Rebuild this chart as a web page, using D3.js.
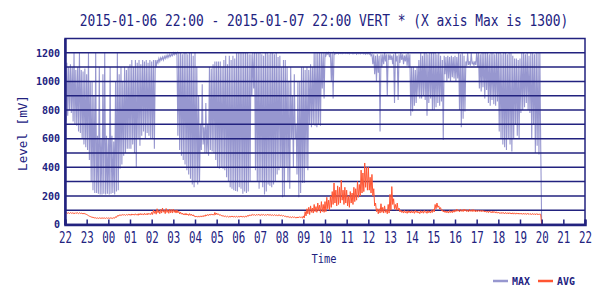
<!DOCTYPE html>
<html>
<head>
<meta charset="utf-8">
<script src="https://cdn.jsdelivr.net/npm/d3@7"></script>
<style>
  body { margin: 0; background: #fff; }
  text { font-family: "DejaVu Sans Mono", monospace; fill: #22227f; }
</style>
</head>
<body>
<div id="chart"></div>
<script>
// MAX level [mV]: highest and lowest reading in each 5 minute bin, one row per hour from 22:00
const maxHigh = [
  1100, 1130, 1100, 1120, 1100, 1200, 1080, 1100, 1200, 1080, 1070, 1090, // 22
  1050, 1200, 1000, 1000, 900, 1200, 620, 1100, 600, 1050, 1200, 620,     // 23
  600, 1100, 620, 580, 1000, 1200, 1050, 1100, 1000, 1100, 1080, 1100,    // 00
  1120, 1150, 1100, 1150, 1130, 1150, 1120, 1150, 1140, 1150, 1130, 1150, // 01
  1140, 1150, 1150, 1150, 1160, 1165, 1170, 1175, 1180, 1185, 1190, 1190, // 02
  1200, 1200, 1200, 1200, 1200, 1190, 1200, 1200, 1190, 1200, 1200, 1180, // 03
  1200, 1100, 900, 700, 980, 680, 850, 700, 1100, 1090, 1120, 1140,       // 04
  1140, 1140, 1140, 1100, 1150, 1180, 1120, 1180, 1150, 1180, 1160, 1200, // 05
  1200, 1200, 1200, 1200, 1200, 1200, 1190, 1190, 1200, 1200, 1200, 1200, // 06
  1200, 1190, 1180, 1200, 1200, 1190, 1200, 1200, 1190, 1200, 1170, 1180, // 07
  1100, 1150, 1150, 1100, 1000, 1100, 900, 1050, 700, 1000, 1000, 1100,   // 08
  1100, 1080, 1100, 1080, 1120, 1100, 1200, 1200, 1200, 1200, 1200, 1200, // 09
  1200, 1200, 1200, 1200, 1200, 1200, 1200, 1200, 1200, 1200, 1200, 1200, // 10
  1200, 1200, 1200, 1200, 1200, 1200, 1200, 1200, 1200, 1200, 1200, 1200, // 11
  1200, 1200, 1190, 1190, 1180, 1190, 1180, 1190, 1190, 1200, 1190, 1190, // 12
  1190, 1180, 1190, 1200, 1180, 1190, 1200, 1190, 1180, 1190, 1200, 1190, // 13
  1100, 1100, 1080, 1100, 1150, 1200, 1180, 1200, 1200, 1190, 1200, 1200, // 14
  1200, 1200, 1190, 1200, 1180, 1150, 1180, 1170, 1180, 1170, 1180, 1170, // 15
  1180, 1170, 1200, 1190, 1200, 1180, 1140, 1200, 1140, 1200, 1135, 1140, // 16
  1200, 1200, 1190, 1200, 1200, 1200, 1200, 1190, 1200, 1200, 1190, 1200, // 17
  1200, 1200, 1190, 1200, 1200, 1190, 1200, 1200, 1180, 1160, 1160, 1150, // 18
  1160, 1200, 1200, 1190, 1200, 1180, 1200, 1200, 1190, 1200, 1200, 1200, // 19
  0, 0, 0, 0, 0, 0, 0, 0, 0, 0, 0, 0,                                     // 20
  0, 0, 0, 0, 0, 0, 0, 0, 0, 0, 0, 0,                                     // 21
  0                                                                       // 22
];
const maxLow = [
  720, 760, 800, 780, 720, 700, 690, 650, 640, 600, 560, 540,             // 22
  520, 450, 300, 240, 220, 220, 215, 210, 210, 215, 210, 215,             // 23
  210, 215, 220, 210, 230, 240, 390, 420, 480, 500, 530, 530,             // 00
  530, 560, 500, 400, 600, 550, 620, 650, 600, 640, 620, 600,             // 01
  600, 530, 1100, 1130, 1140, 1150, 1150, 1160, 1165, 1170, 1175, 1180,   // 02
  1185, 1190, 620, 520, 480, 450, 420, 380, 350, 320, 280, 260,           // 03
  300, 280, 300, 520, 560, 500, 500, 480, 520, 510, 500, 450,             // 04
  400, 390, 400, 390, 380, 330, 300, 260, 250, 240, 235, 230,             // 05
  260, 250, 215, 230, 220, 230, 300, 900, 950, 380, 300, 250,             // 06
  300, 260, 210, 230, 280, 270, 260, 280, 300, 350, 380, 400,             // 07
  190, 200, 400, 300, 250, 600, 400, 600, 350, 190, 220, 290,             // 08
  290, 400, 380, 700, 680, 700, 690, 680, 700, 690, 950, 880,             // 09
  1180, 1190, 1170, 1000, 880, 1190, 1195, 1192, 1195, 1194, 1196, 1195,  // 10
  1195, 1192, 1196, 1193, 1195, 1190, 1194, 1192, 1195, 1193, 1190, 1192, // 11
  1190, 1180, 1120, 1050, 1000, 1060, 650, 1100, 1120, 1140, 900, 1150,   // 12
  1150, 1120, 850, 1140, 870, 1130, 1150, 1120, 1140, 1110, 1100, 760,    // 13
  790, 830, 850, 900, 880, 880, 900, 870, 760, 850, 880, 800,             // 14
  800, 820, 850, 830, 860, 590, 1050, 1000, 1020, 1000, 1030, 1020,       // 15
  1000, 1020, 800, 680, 740, 790, 1110, 1115, 1110, 1120, 1110, 1115,     // 16
  1100, 950, 930, 960, 880, 940, 850, 830, 870, 840, 830, 860,            // 17
  650, 600, 560, 540, 520, 600, 560, 510, 600, 700, 620, 600,             // 18
  780, 800, 820, 850, 800, 780, 600, 700, 500, 550, 490, 520,             // 19
  0, 0, 0, 0, 0, 0, 0, 0, 0, 0, 0, 0,                                     // 20
  0, 0, 0, 0, 0, 0, 0, 0, 0, 0, 0, 0,                                     // 21
  0                                                                       // 22
];

// AVG level [mV]: highest and lowest reading in each 5 minute bin
const avgHigh = [
  84, 84, 82, 83, 82, 81, 83, 82, 82, 80, 79, 77,              // 22
  70, 62, 56, 52, 49, 47, 46, 47, 46, 47, 46, 47,              // 23
  46, 47, 46, 48, 54, 62, 67, 68, 70, 69, 70, 71,              // 00
  72, 74, 73, 75, 72, 76, 77, 75, 78, 76, 79, 77,              // 01
  85, 100, 95, 110, 98, 105, 115, 100, 112, 102, 108, 104,     // 02
  108, 100, 102, 92, 86, 80, 76, 78, 74, 76, 72, 68,           // 03
  60, 58, 60, 59, 61, 64, 68, 70, 72, 74, 72, 84,              // 04
  80, 74, 68, 63, 61, 59, 58, 57, 59, 58, 57, 58,              // 05
  57, 59, 58, 57, 59, 63, 67, 69, 71, 69, 70, 71,              // 06
  69, 71, 70, 69, 71, 70, 69, 68, 69, 67, 68, 67,              // 07
  65, 63, 59, 57, 55, 53, 55, 53, 51, 53, 55, 51,              // 08
  60, 90, 110, 120, 130, 115, 140, 125, 150, 135, 160, 140,    // 09
  160, 190, 170, 200, 230, 290, 240, 270, 260, 310, 240, 260,  // 10
  240, 200, 230, 220, 260, 250, 300, 280, 380, 360, 430, 400,  // 11
  400, 330, 350, 250, 150, 110, 110, 145, 120, 130, 100, 140,  // 12
  210, 265, 180, 140, 150, 115, 100, 95, 98, 92, 96, 94,       // 13
  96, 92, 98, 94, 90, 96, 93, 98, 92, 96, 94, 98,              // 14
  105, 140, 150, 130, 118, 102, 97, 95, 93, 97, 95, 99,        // 15
  102, 108, 100, 106, 103, 108, 104, 102, 106, 103, 105, 102,  // 16
  100, 101, 99, 100, 97, 95, 93, 95, 91, 93, 90, 89,           // 17
  86, 84, 85, 83, 84, 82, 83, 81, 82, 80, 81, 80,              // 18
  79, 78, 79, 77, 78, 77, 76, 77, 75, 76, 75, 75,              // 19
  0, 0, 0, 0, 0, 0, 0, 0, 0, 0, 0, 0,                          // 20
  0, 0, 0, 0, 0, 0, 0, 0, 0, 0, 0, 0,                          // 21
  0                                                            // 22
];
const avgLow = [
  78, 78, 77, 78, 77, 76, 78, 76, 77, 75, 74, 72,              // 22
  66, 58, 52, 48, 45, 43, 42, 43, 42, 43, 42, 43,              // 23
  42, 43, 42, 44, 50, 58, 63, 64, 66, 64, 65, 66,              // 00
  64, 66, 65, 67, 64, 67, 68, 66, 69, 67, 70, 69,              // 01
  70, 78, 72, 82, 75, 80, 86, 76, 84, 78, 82, 80,              // 02
  85, 80, 82, 74, 72, 68, 66, 66, 63, 64, 61, 57,              // 03
  53, 51, 53, 52, 54, 57, 61, 63, 65, 67, 65, 68,              // 04
  70, 65, 62, 57, 55, 53, 52, 51, 53, 52, 51, 52,              // 05
  51, 53, 52, 51, 53, 57, 61, 63, 65, 63, 64, 65,              // 06
  63, 65, 64, 63, 65, 64, 63, 62, 63, 61, 62, 61,              // 07
  59, 57, 53, 51, 49, 47, 49, 47, 45, 47, 49, 45,              // 08
  45, 60, 75, 70, 85, 80, 90, 85, 95, 80, 90, 85,              // 09
  90, 110, 100, 120, 140, 150, 130, 140, 150, 170, 140, 150,   // 10
  130, 120, 150, 140, 160, 170, 190, 200, 220, 230, 260, 240,  // 11
  240, 220, 200, 130, 90, 75, 80, 85, 80, 85, 75, 80,          // 12
  100, 140, 110, 100, 100, 88, 84, 80, 82, 78, 82, 80,         // 13
  82, 78, 84, 80, 76, 82, 79, 84, 78, 82, 80, 84,              // 14
  88, 110, 120, 108, 98, 88, 84, 82, 80, 84, 82, 86,           // 15
  90, 94, 88, 92, 90, 94, 90, 88, 92, 90, 91, 88,              // 16
  90, 91, 89, 90, 87, 85, 83, 85, 81, 83, 80, 79,              // 17
  78, 76, 77, 75, 76, 74, 75, 73, 74, 72, 73, 72,              // 18
  72, 71, 72, 70, 71, 70, 69, 70, 68, 69, 68, 68,              // 19
  0, 0, 0, 0, 0, 0, 0, 0, 0, 0, 0, 0,                          // 20
  0, 0, 0, 0, 0, 0, 0, 0, 0, 0, 0, 0,                          // 21
  0                                                            // 22
];

const yLabelValues = [0, 200, 400, 600, 800, 1000, 1200];
const gridValues = [100, 200, 300, 400, 500, 600, 700, 800, 900, 1000, 1100, 1200];
const seriesNames = ["MAX", "AVG"];
const seriesColors = ["#9797cf", "#ff5532"];
const titleText = "2015-01-06 22:00 - 2015-01-07 22:00 VERT * (X axis Max is 1300)";

const startTime = new Date(2015, 0, 6, 22, 0);
const endTime = new Date(2015, 0, 7, 22, 0);
const binMs = 5 * 60 * 1000;

const W = 600, H = 300;
const margin = { left: 65, right: 585, top: 38.5, bottom: 224.5 };
const navy = "#22227f";

const svg = d3.select("#chart").append("svg")
    .attr("width", W)
    .attr("height", H);

const x = d3.scaleTime().domain([startTime, endTime]).range([margin.left, margin.right]);
const y = d3.scaleLinear().domain([0, 1300]).range([margin.bottom, margin.top]);

// each bin: its high reading at the bin start, its low reading half a bin later
function binPoints(hi, lo) {
    const pts = [];
    hi.forEach((v, i) => {
        const t0 = startTime.getTime() + i * binMs;
        pts.push({ t: new Date(t0), v: v });
        if (i < hi.length - 1) pts.push({ t: new Date(t0 + binMs / 2), v: lo[i] });
    });
    return pts;
}

const line = d3.line()
    .x(d => x(d.t))
    .y(d => y(d.v));

// MAX series
svg.append("path")
    .datum(binPoints(maxHigh, maxLow))
    .attr("fill", "none")
    .attr("stroke", seriesColors[0])
    .attr("stroke-width", 1.1)
    .attr("d", line);

// horizontal grid
svg.append("g")
    .selectAll("line")
    .data(gridValues)
    .enter()
    .append("line")
    .attr("x1", margin.left)
    .attr("x2", margin.right)
    .attr("y1", d => y(d))
    .attr("y2", d => y(d))
    .attr("stroke", navy)
    .attr("stroke-width", 1.5);

// AVG series
svg.append("path")
    .datum(binPoints(avgHigh, avgLow))
    .attr("fill", "none")
    .attr("stroke", seriesColors[1])
    .attr("stroke-width", 1)
    .attr("d", line);

// frame
svg.append("rect")
    .attr("x", margin.left)
    .attr("y", margin.top)
    .attr("width", margin.right - margin.left)
    .attr("height", margin.bottom - margin.top)
    .attr("fill", "none")
    .attr("stroke", navy)
    .attr("stroke-width", 1.5);

// x axis
const xAxis = svg.append("g")
    .attr("transform", `translate(0,${margin.bottom})`)
    .call(d3.axisBottom(x)
        .ticks(d3.timeHour.every(1))
        .tickSize(-5)
        .tickFormat(d3.timeFormat("%H")));
xAxis.select(".domain").attr("stroke", navy).attr("stroke-width", 2.5);
xAxis.selectAll(".tick line").attr("stroke", navy).attr("stroke-width", 1.5);
xAxis.selectAll(".tick text")
    .attr("y", 18)
    .attr("dy", 0)
    .attr("textLength", 13)
    .attr("lengthAdjust", "spacingAndGlyphs")
    .style("font-size", "15px")
    .style("fill", navy);

// y axis
const yAxis = svg.append("g")
    .attr("transform", `translate(${margin.left},0)`)
    .call(d3.axisLeft(y).tickValues(yLabelValues).tickSize(0).tickPadding(5)
        .tickFormat(d3.format("d")));
yAxis.select(".domain").attr("stroke", navy).attr("stroke-width", 2.5);
yAxis.selectAll(".tick text")
    .style("font-size", "10px")
    .style("font-weight", "bold")
    .style("fill", navy);

// title (squeezed horizontally like the original narrow font)
svg.append("text")
    .attr("transform", "translate(324,26) scale(0.86,1)")
    .attr("text-anchor", "middle")
    .style("font-size", "15px")
    .text(titleText);

// axis titles
svg.append("text")
    .attr("transform", "translate(27,133) rotate(-90) scale(0.97,1)")
    .attr("text-anchor", "middle")
    .style("font-size", "13px")
    .text("Level [mV]");

svg.append("text")
    .attr("transform", "translate(324,263) scale(0.8,1)")
    .attr("text-anchor", "middle")
    .style("font-size", "13px")
    .text("Time");

// legend
const legend = svg.append("g").attr("transform", "translate(493,281)");
const legendItems = legend.selectAll("g")
    .data(seriesNames)
    .enter()
    .append("g")
    .attr("transform", (d, i) => `translate(${i * 45},0)`);
legendItems.append("line")
    .attr("x1", 0)
    .attr("x2", 15)
    .attr("stroke", (d, i) => seriesColors[i])
    .attr("stroke-width", 2.5);
legendItems.append("text")
    .attr("transform", "translate(19,4) scale(0.9,1)")
    .style("font-size", "11px")
    .style("font-weight", "bold")
    .text(d => d);
</script>
</body>
</html>
